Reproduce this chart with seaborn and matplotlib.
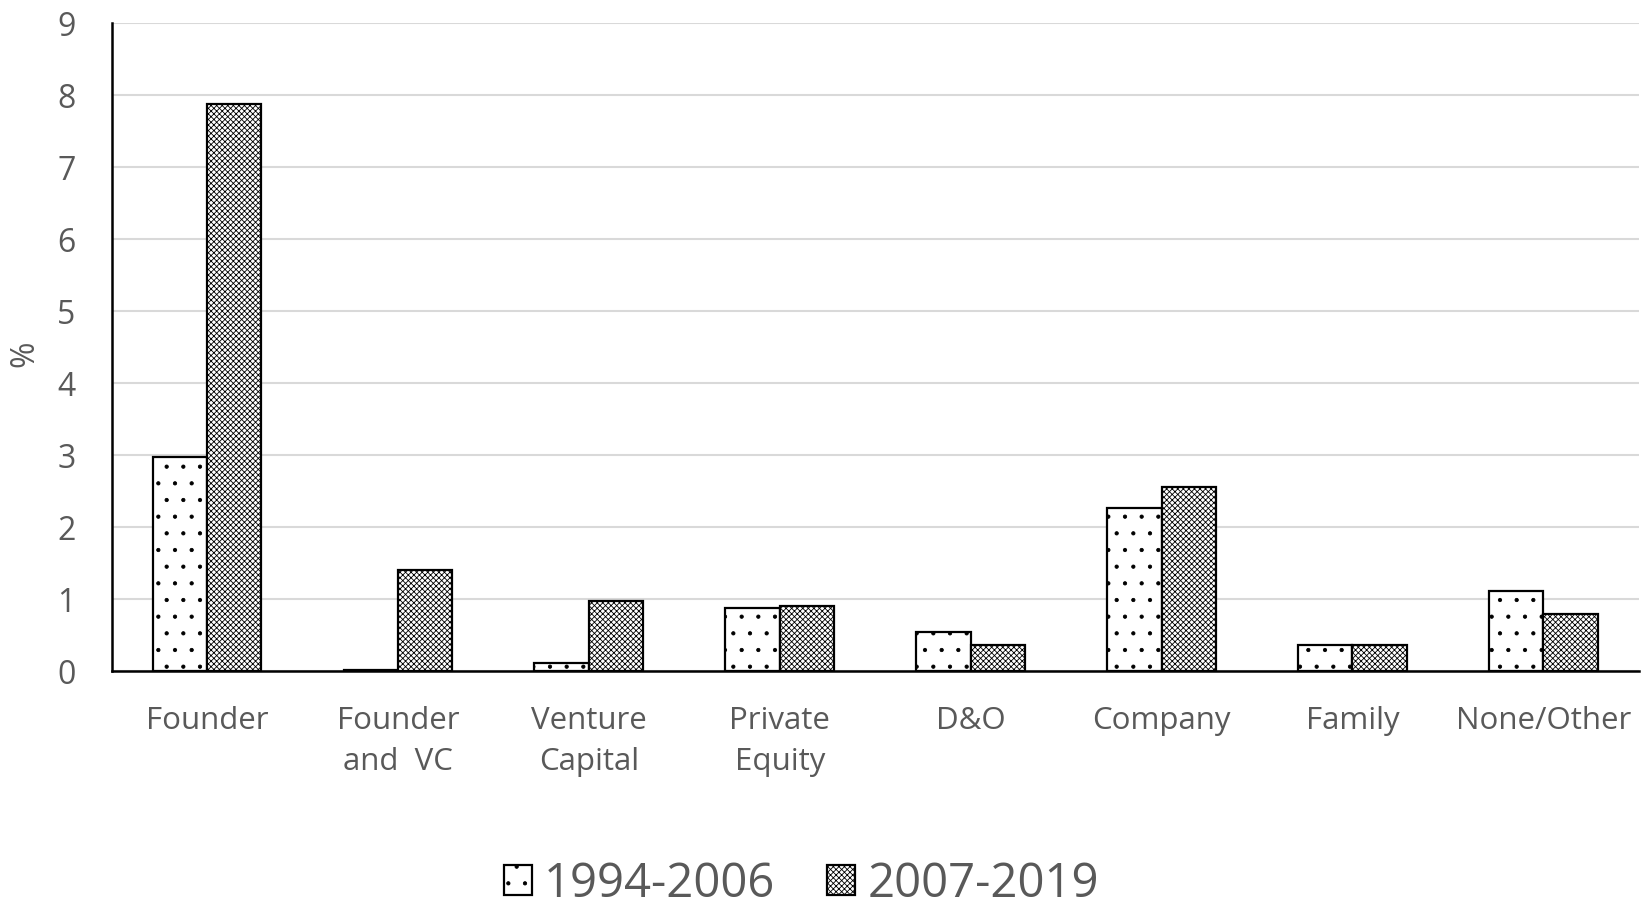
import numpy as np
import pandas as pd
import matplotlib
matplotlib.use("Agg")
import matplotlib.pyplot as plt
import seaborn as sns
from matplotlib.patches import Patch

# Values (%)
categories = ["Founder", "Founder\nand  VC", "Venture\nCapital", "Private\nEquity",
              "D&O", "Company", "Family", "None/Other"]
periods = ["1994-2006", "2007-2019"]
early = [2.97, 0.02, 0.12, 0.88, 0.55, 2.27, 0.37, 1.12]
late = [7.87, 1.40, 0.97, 0.91, 0.36, 2.56, 0.36, 0.79]
y_ticks = list(range(0, 10))

df = pd.DataFrame({
    "category": categories * 2,
    "period": [periods[0]] * len(categories) + [periods[1]] * len(categories),
    "value": early + late,
})

sns.set_style("white")
plt.rcParams["font.family"] = ["Open Sans", "DejaVu Sans"]
plt.rcParams["hatch.linewidth"] = 0.6
plt.rcParams["hatch.color"] = "black"

text_color = "#595959"
hatches = {periods[0]: ".", periods[1]: "xxxxxx"}

fig = plt.figure(figsize=(16.42, 9.07), dpi=100)
ax = fig.add_axes([0.068, 0.260, 0.930, 0.7146])

sns.barplot(data=df, x="category", y="value", hue="period", order=categories,
            hue_order=periods, palette=["white", "white"], width=0.57,
            edgecolor="black", linewidth=1.6, saturation=1, ax=ax, legend=False)

# Hatch each series
for container, period in zip(ax.containers, periods):
    for bar in container:
        bar.set_hatch(hatches[period])

ax.set_ylim(0, 9)
ax.set_xlim(-0.5, len(categories) - 0.5)
ax.set_yticks(y_ticks)
ax.yaxis.grid(True, color="#d9d9d9", linewidth=1.5)
ax.set_axisbelow(True)

sns.despine(ax=ax)
for side in ["left", "bottom"]:
    ax.spines[side].set_color("black")
    ax.spines[side].set_linewidth(1.8)

ax.tick_params(axis="y", length=9, width=1.6, color="black", pad=17,
               labelsize=23, labelcolor=text_color)
ax.tick_params(axis="x", length=0, pad=25, labelsize=22.5, labelcolor=text_color)
for lbl in ax.get_xticklabels():
    lbl.set_linespacing(1.5)
    lbl.set_verticalalignment("top")

ax.set_xlabel("")
ax.set_ylabel("%", fontsize=23, color=text_color)
ax.yaxis.set_label_coords(-0.046, 0.49)

handles = [Patch(facecolor="white", edgecolor="black", linewidth=1.6, hatch=hatches[p])
           for p in periods]
fig.legend(handles, periods, loc="center", bbox_to_anchor=(0.488, 0.025), ncol=2,
           frameon=False, fontsize=34, labelcolor=text_color, handlelength=0.6,
           handleheight=0.6, handletextpad=0.25, columnspacing=1.1)

fig.savefig("out.png", dpi=100)
